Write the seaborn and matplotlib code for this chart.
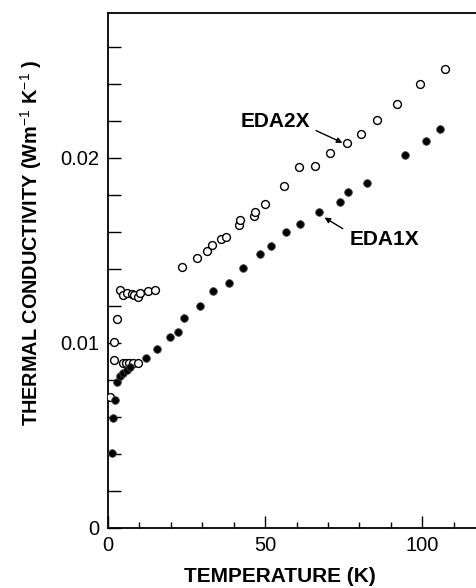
#!/usr/bin/env python3

from matplotlib import pyplot as plt
from matplotlib.ticker import MultipleLocator, FuncFormatter
import seaborn as sns

# EDA2X (open circles)
eda2x_t = [0.5, 1.8, 1.8, 3.0,
           3.9, 4.6, 6.1, 7.5, 8.4, 9.4, 10.2, 12.6, 15.0,
           4.9, 5.8, 6.8, 8.0, 9.5,
           23.5, 28.4, 31.4, 33.2, 36.0, 37.7, 41.6, 42.1, 46.5, 46.9,
           50.0, 56.1, 60.8, 65.8, 70.7, 76.0, 80.5, 85.7, 91.9, 99.3, 107.3]
eda2x_k = [0.00707, 0.00905, 0.01002, 0.01127,
           0.01282, 0.01260, 0.01270, 0.01262, 0.01258, 0.01245, 0.01268, 0.01278, 0.01283,
           0.00890, 0.00892, 0.00892, 0.00892, 0.00890,
           0.01410, 0.01456, 0.01497, 0.01528, 0.01561, 0.01571, 0.01636, 0.01663, 0.01684, 0.01708,
           0.01750, 0.01846, 0.01951, 0.01955, 0.02025, 0.02081, 0.02130, 0.02204, 0.02288, 0.02400, 0.02481]

# EDA1X (filled circles)
eda1x_t = [1.4, 1.7, 2.1, 2.7, 3.8, 4.9, 6.0, 7.0,
           12.0, 15.7, 19.6, 22.2, 24.1, 29.3, 33.5, 38.4, 42.8, 48.5, 51.8,
           56.8, 61.2, 67.2, 73.7, 76.4, 82.4, 94.6, 101.1, 105.7]
eda1x_k = [0.00405, 0.00591, 0.00690, 0.00788, 0.00820, 0.00838, 0.00852, 0.00867,
           0.00919, 0.00966, 0.01031, 0.01060, 0.01132, 0.01200, 0.01281, 0.01324, 0.01405, 0.01479, 0.01523,
           0.01600, 0.01643, 0.01706, 0.01759, 0.01815, 0.01865, 0.02013, 0.02089, 0.02157]

sns.set_style('ticks')
plt.rcParams['font.family'] = ['Liberation Sans', 'DejaVu Sans']
plt.rcParams['mathtext.fontset'] = 'custom'
plt.rcParams['mathtext.rm'] = 'Liberation Sans'
plt.rcParams['text.color'] = 'black'
plt.rcParams['axes.labelcolor'] = 'black'

fig = plt.figure(figsize=(4.76, 5.88), dpi=100)
ax = fig.add_axes([0.227, 0.1025, 0.792, 0.875])

sns.scatterplot(x=eda2x_t, y=eda2x_k, ax=ax, marker='o', s=32,
                facecolor='white', edgecolor='black', linewidth=1.0, zorder=3)
sns.scatterplot(x=eda1x_t, y=eda1x_k, ax=ax, marker='o', s=30,
                color='black', edgecolor='#444444', linewidth=0.6, zorder=3)

ax.set_xlim(0, 120)
ax.set_ylim(0, 0.0278)
ax.xaxis.set_major_locator(MultipleLocator(50))
ax.xaxis.set_minor_locator(MultipleLocator(10))
ax.yaxis.set_major_locator(MultipleLocator(0.01))
ax.yaxis.set_minor_locator(MultipleLocator(0.002))
ax.yaxis.set_major_formatter(FuncFormatter(lambda v, p: '0' if v == 0 else f'{v:g}'))

ax.tick_params(which='both', direction='in', width=1.0, color='black',
               labelsize=14.5, labelcolor='black')
ax.tick_params(axis='x', which='major', length=9, pad=6)
ax.tick_params(axis='x', which='minor', length=4)
ax.tick_params(axis='y', which='both', length=9, pad=6)

for side in ['left', 'bottom', 'top']:
    ax.spines[side].set_linewidth(1.3)
    ax.spines[side].set_color('black')
ax.spines['right'].set_visible(False)

fig.text(0.588, 0.003, 'TEMPERATURE (K)', ha='center', va='bottom',
         fontsize=15, fontweight='bold')
fig.text(0.066, 0.587, r'THERMAL CONDUCTIVITY (Wm$^{-1}$ K$^{-1}$ )', rotation=90,
         ha='center', va='center', fontsize=14.3, fontweight='bold')

# labels and pointer arrows
ax.text(53.4, 0.02193, 'EDA2X', ha='center', va='center', fontsize=15, fontweight='bold')
ax.annotate('', xy=(74.6, 0.02080), xytext=(66.2, 0.02146),
            arrowprops=dict(arrowstyle='-|>', color='black', lw=1.0,
                            shrinkA=0, shrinkB=0, mutation_scale=8))
ax.text(88.1, 0.01560, 'EDA1X', ha='center', va='center', fontsize=15, fontweight='bold')
ax.annotate('', xy=(68.9, 0.01676), xytext=(74.7, 0.01616),
            arrowprops=dict(arrowstyle='-|>', color='black', lw=1.0,
                            shrinkA=0, shrinkB=0, mutation_scale=8))

plt.savefig('out.png', dpi=100)
